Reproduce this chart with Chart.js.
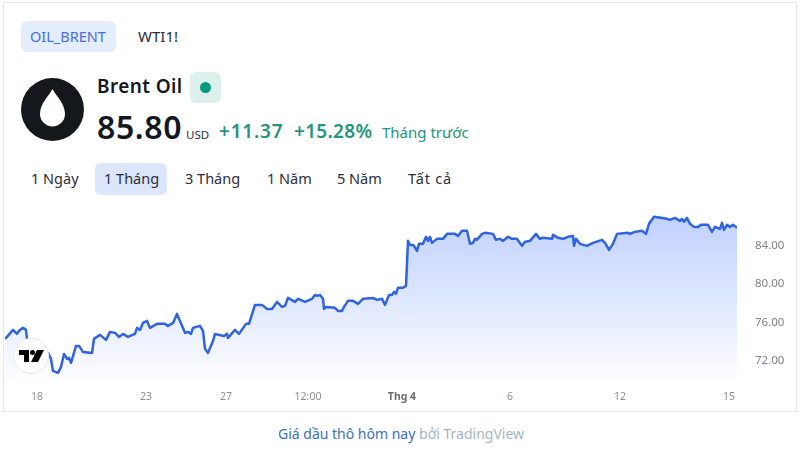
<!DOCTYPE html>
<html>
<head>
<meta charset="utf-8">
<script src="https://cdn.jsdelivr.net/npm/chart.js@4/dist/chart.umd.js"></script>
<style>
  html, body { margin: 0; padding: 0; background: #fff; width: 800px; height: 450px; overflow: hidden; }
  body { font-family: 'Noto Sans', sans-serif; color: #131722; position: relative; }
  .abs { position: absolute; white-space: nowrap; line-height: 1; }
  #card { position: absolute; left: 3px; top: 2px; width: 792px; height: 408px; border: 1px solid #e6e8ee; }
  .pill { position: absolute; border-radius: 6px; }
  #wrap { position: absolute; left: 4px; top: 182px; width: 791px; height: 228px; }
  .range { font-size: 14.5px; top: 171px; color: #2a2e39; }
</style>
</head>
<body>
<div id="card"></div>

<div class="pill" style="left:21px;top:21px;width:95px;height:31px;background:#e3edfb"></div>
<div class="abs" style="left:30px;top:29px;font-size:14.5px;color:#4a6ee0">OIL_BRENT</div>
<div class="abs" style="left:138px;top:29px;font-size:15px;color:#2a2e39">WTI1!</div>

<svg class="abs" style="left:21px;top:78px" width="63" height="63" viewBox="0 0 63 63">
  <circle cx="31.5" cy="31.5" r="31.5" fill="#14171c"/>
  <path d="M31.5 11 C36 19 44 26 44 36 A12.5 12.5 0 0 1 19 36 C19 26 27 19 31.5 11 Z" fill="#fff"/>
</svg>

<div class="abs" style="left:97px;top:77px;font-size:19px;font-weight:600;letter-spacing:.4px">Brent Oil</div>
<div class="pill" style="left:190px;top:72px;width:31px;height:31px;background:#dcf0ec"></div>
<div class="abs" style="left:200px;top:82px;width:11px;height:11px;border-radius:50%;background:#089981"></div>

<div class="abs" style="left:97px;top:111px;font-size:32px;font-weight:600;letter-spacing:.6px">85.80</div>
<div class="abs" style="left:186px;top:129px;font-size:11.5px;color:#2a2e39">USD</div>
<div class="abs" style="left:219px;top:122px;font-size:19px;font-weight:600;letter-spacing:.8px;color:#22957b">+11.37</div>
<div class="abs" style="left:294px;top:122px;font-size:19px;font-weight:600;letter-spacing:.3px;color:#22957b">+15.28%</div>
<div class="abs" style="left:382px;top:125px;font-size:15px;color:#22957b">Tháng trước</div>

<div class="pill" style="left:95px;top:163px;width:72px;height:32px;background:#dbe6fa"></div>
<div class="abs range" style="left:31px">1 Ngày</div>
<div class="abs range" style="left:104px">1 Tháng</div>
<div class="abs range" style="left:185px">3 Tháng</div>
<div class="abs range" style="left:267px">1 Năm</div>
<div class="abs range" style="left:337px">5 Năm</div>
<div class="abs range" style="left:408px;letter-spacing:.8px">Tất cả</div>

<div id="wrap"><canvas id="chart"></canvas></div>

<div class="abs" style="left:13px;top:338px;width:36px;height:36px;border-radius:50%;background:#fff;border:1px solid #e6e8ee;box-sizing:border-box">
  <svg width="34" height="34" viewBox="0 0 34 34" style="display:block">
    <path d="M5 11 H15 V23 H10 V16 H5 Z" fill="#000"/>
    <circle cx="18.5" cy="13.5" r="2.5" fill="#000"/>
    <path d="M23 11 H30 L24 23 H17 Z" fill="#000"/>
  </svg>
</div>

<div class="abs" style="left:278px;top:427px;font-size:14px;color:#3a6fc4">Giá dầu thô hôm nay <span style="color:#a8b4c4">bởi TradingView</span></div>

<script>
// bar offset from the left edge of the plot, price in USD (ten per row in both)
const bars = [
  0, 2, 8, 12, 14, 18, 21, 22, 27, 35,
  43, 46, 48, 53, 56, 59, 62, 64, 66, 71,
  74, 78, 87, 89, 95, 101, 105, 110, 114, 118,
  123, 130, 132, 135, 138, 142, 145, 152, 160, 163,
  168, 172, 180, 183, 186, 188, 195, 198, 200, 203,
  208, 210, 219, 222, 223, 230, 234, 241, 244, 250,
  257, 262, 267, 272, 277, 280, 283, 290, 293, 300,
  307, 310, 312, 315, 318, 319, 321, 330, 333, 337,
  339, 343, 348, 353, 358, 368, 372, 377, 380, 384,
  387, 389, 391, 393, 398, 401, 403, 405, 408, 409,
  412, 414, 418, 421, 423, 425, 427, 432, 438, 442,
  450, 453, 457, 462, 465, 468, 470, 472, 477, 480,
  488, 491, 495, 498, 503, 507, 512, 517, 520, 525,
  531, 535, 538, 547, 548, 553, 558, 563, 568, 569,
  571, 575, 582, 588, 597, 600, 604, 608, 612, 623,
  625, 630, 637, 641, 644, 649, 662, 665, 670, 675,
  677, 679, 682, 685, 689, 693, 696, 703, 707, 710,
  715, 717, 719, 722, 725, 728, 732,
];
const prices = [
  74.29, 74.50, 75.23, 74.81, 75.13, 75.44, 75.23, 74.29, 73.56, 73.04,
  72.83, 72.20, 70.95, 70.74, 71.37, 72.72, 72.20, 72.31, 71.79, 73.56,
  73.56, 72.93, 72.83, 74.29, 74.71, 74.19, 75.02, 74.92, 74.50, 74.81,
  74.50, 74.81, 75.44, 75.23, 75.96, 76.17, 75.44, 75.86, 75.86, 75.65,
  75.96, 76.90, 74.92, 75.02, 74.81, 75.44, 75.65, 75.13, 73.25, 72.83,
  74.08, 74.81, 74.60, 74.81, 74.40, 75.23, 74.81, 75.86, 75.86, 77.84,
  77.84, 77.42, 77.42, 78.15, 77.63, 77.74, 78.57, 78.15, 78.47, 78.15,
  78.47, 78.88, 78.78, 78.88, 78.47, 77.42, 77.63, 77.53, 77.21, 77.21,
  77.63, 78.26, 78.26, 77.94, 78.47, 78.57, 78.36, 78.47, 77.84, 78.88,
  78.88, 79.20, 78.99, 79.62, 79.62, 79.82, 84.52, 84.10, 84.10, 84.00,
  83.48, 84.21, 84.21, 84.94, 84.52, 84.94, 84.31, 84.73, 84.73, 85.25,
  85.25, 85.04, 85.57, 85.57, 84.21, 84.31, 84.73, 84.63, 85.25, 85.36,
  85.25, 84.63, 84.73, 84.52, 84.94, 84.73, 84.73, 84.00, 84.42, 84.52,
  85.25, 84.73, 84.84, 84.73, 85.15, 84.84, 84.73, 84.94, 85.04, 84.00,
  84.73, 84.21, 84.00, 84.31, 84.63, 84.31, 83.58, 84.21, 85.25, 85.36,
  85.25, 85.46, 85.57, 85.25, 86.30, 87.03, 86.82, 86.71, 86.92, 86.61,
  86.82, 86.51, 86.92, 86.30, 85.98, 85.98, 86.19, 86.19, 85.46, 85.98,
  85.77, 86.40, 85.67, 86.19, 85.98, 86.19, 85.88,
];

const priceTicks = [72, 76, 80, 84];
const timeTickBars = [32, 141, 221, 303, 397, 505, 615, 724];
const timeTickLabels = ['18', '23', '27', '12:00', 'Thg 4', '6', '12', '15'];

const ctx = document.getElementById('chart').getContext('2d');

new Chart(ctx, {
  type: 'line',
  data: {
    datasets: [
      {
        data: bars.map((b, i) => ({ x: b, y: prices[i] })),
        borderColor: '#2f63e0',
        borderWidth: 2.5,
        borderJoinStyle: 'round',
        pointRadius: 0,
        tension: 0,
        fill: true,
        backgroundColor: (c) => {
          const area = c.chart.chartArea;
          if (!area) return 'rgba(41,98,255,0.28)';
          const g = c.chart.ctx.createLinearGradient(0, area.top, 0, area.bottom);
          g.addColorStop(0, 'rgba(41,98,255,0.32)');
          g.addColorStop(1, 'rgba(41,98,255,0.01)');
          return g;
        },
      },
    ],
  },
  options: {
    responsive: true,
    maintainAspectRatio: false,
    animation: false,
    layout: { padding: { left: 1, right: 0, top: 5, bottom: 0 } },
    plugins: { legend: { display: false }, tooltip: { enabled: false } },
    scales: {
      x: {
        type: 'linear',
        min: 0,
        max: 732,
        afterBuildTicks: (axis) => {
          axis.ticks = timeTickBars.map((v) => ({ value: v }));
        },
        afterFit: (axis) => { axis.height = 30; },
        grid: { display: false },
        border: { display: false },
        ticks: {
          autoSkip: false,
          maxRotation: 0,
          padding: 3,
          color: (c) => (timeTickBars[c.index] === 397 ? '#6a6d78' : '#8a8e99'),
          font: (c) => ({
            family: 'Noto Sans',
            size: 10.5,
            weight: timeTickBars[c.index] === 397 ? 'bold' : 'normal',
          }),
          callback: (value) => timeTickLabels[timeTickBars.indexOf(value)],
        },
      },
      y: {
        position: 'right',
        min: 70,
        max: 88.9,
        afterBuildTicks: (axis) => {
          axis.ticks = priceTicks.map((v) => ({ value: v }));
        },
        afterFit: (axis) => { axis.width = 58; },
        grid: { display: false },
        border: { display: false },
        ticks: {
          padding: 10,
          color: '#7e828d',
          font: { family: 'Noto Sans', size: 11.5 },
          callback: (value) => value.toFixed(2),
        },
      },
    },
  },
});
</script>
</body>
</html>
